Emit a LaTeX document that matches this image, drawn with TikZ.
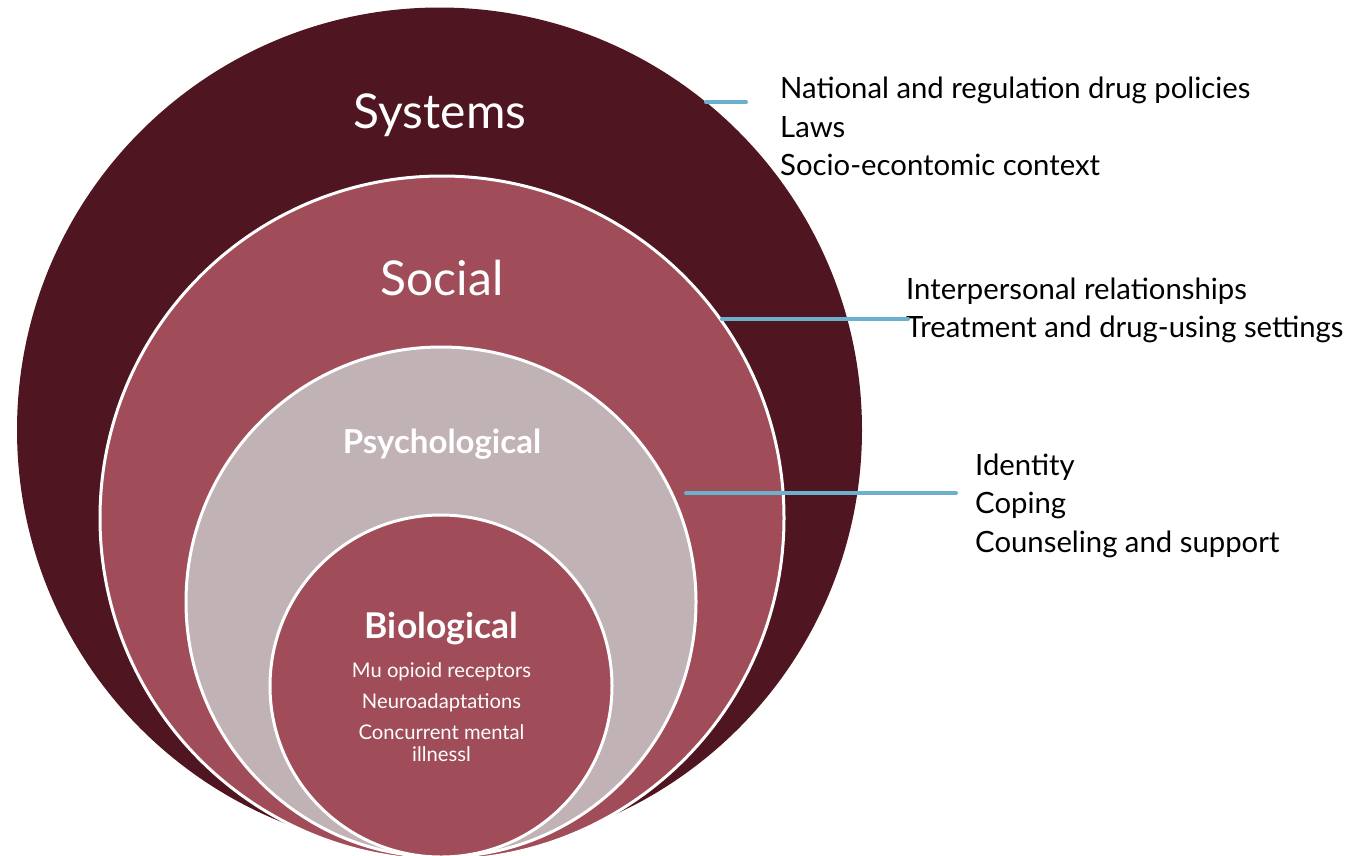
\documentclass[tikz,border=0pt]{standalone}
\usepackage{fontspec}
\setmainfont{Lato}
\definecolor{sysc}{RGB}{79,21,32}
\definecolor{socc}{RGB}{160,77,89}
\definecolor{psyc}{RGB}{193,178,181}
\definecolor{linec}{RGB}{107,176,204}
\begin{document}
\begin{tikzpicture}[x=1pt,y=-1pt,
  ring/.style={circle, inner sep=0pt, outer sep=0pt},
  wring/.style={ring, draw=white, line width=3pt},
  intext/.style={anchor=base, inner sep=0pt, text=white},
  rtext/.style={anchor=base west, inner sep=0pt, text=black, font=\fontsize{29.3}{31}\selectfont},
  lead/.style={draw=linec, line width=4pt, line cap=round}]
\useasboundingbox (0,0) rectangle (1359,855);
% circles
\node[ring, fill=sysc, minimum size=845pt] (sys) at (439.5,430) {};
\node[wring, fill=socc, minimum size=684pt] (soc) at (442,518) {};
\node[wring, fill=psyc, minimum size=510pt] (psy) at (441,602) {};
\node[wring, fill=socc, minimum size=342pt] (bio) at (441,686) {};
% circle titles
\node[intext, font=\fontsize{48}{50}\selectfont] (tsys) at (440,128) {Systems};
\node[intext, font=\fontsize{48}{50}\selectfont] (tsoc) at (442,295) {Social};
\node[intext, font=\bfseries\fontsize{33}{34}\selectfont] (tpsy) at (442,453) {Psychological};
\node[intext, font=\bfseries\fontsize{35.5}{36}\selectfont] (tbio) at (441.5,638) {Biological};
\node[intext, font=\fontsize{20.2}{21}\selectfont] (b1) at (441.5,677) {Mu opioid receptors};
\node[intext, font=\fontsize{20.2}{21}\selectfont] (b2) at (441.5,708) {Neuroadaptations};
\node[intext, font=\fontsize{20.2}{21}\selectfont] (b3) at (441.5,739) {Concurrent mental};
\node[intext, font=\fontsize{20.2}{21}\selectfont] (b4) at (441.5,761) {illnessl};
% right texts
\node[rtext] (s1) at (780,98) {National and regulation drug policies};
\node[rtext] (s2) at (780,137) {Laws};
\node[rtext] (s3) at (780,175) {Socio-econtomic context};
\node[rtext] (o1) at (906,299) {Interpersonal relationships};
\node[rtext] (o2) at (906,337) {Treatment and drug-using settings};
\node[rtext] (p1) at (975,475) {Identity};
\node[rtext] (p2) at (975,513) {Coping};
\node[rtext] (p3) at (975,552) {Counseling and support};
% leader lines
\coordinate (l1a) at (706,102);
\coordinate (l1b) at (746,102);
\coordinate (l2a) at (722,319);
\coordinate (l2b) at (908,319);
\coordinate (l3a) at (686,493);
\coordinate (l3b) at (956,493);
\draw[lead] (l1a) -- (l1b);
\draw[lead] (l2a) -- (l2b);
\draw[lead] (l3a) -- (l3b);
\end{tikzpicture}
\end{document}
